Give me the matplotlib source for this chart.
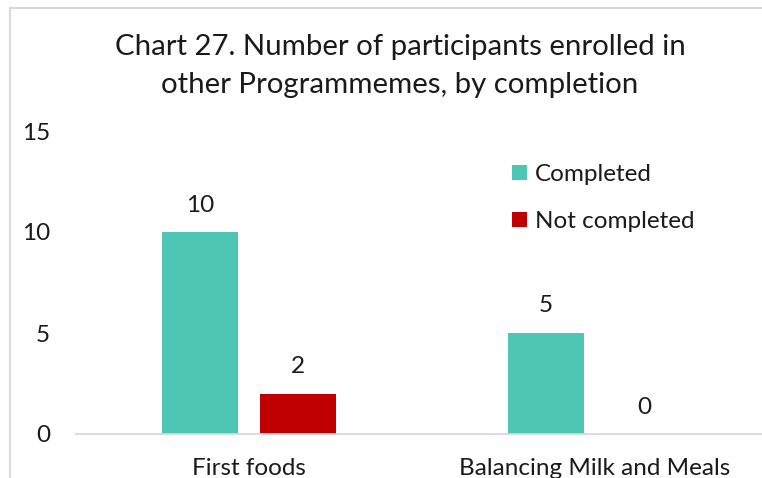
import matplotlib
matplotlib.use("Agg")
import matplotlib.pyplot as plt
from matplotlib.patches import Rectangle
import numpy as np

categories = ["First foods", "Balancing Milk and Meals"]
completed = [10, 5]
not_completed = [2, 0]
series_names = ["Completed", "Not completed"]
yticks = [0, 5, 10, 15]

TEAL = "#4dc7b4"
RED = "#c00000"
W, H = 762, 478
FS = 17.5

plt.rcParams['font.family'] = ['Lato', 'DejaVu Sans']

fig = plt.figure(figsize=(W / 100, H / 100), dpi=100)

# chart area border (cropped at right and bottom)
fig.patches.append(Rectangle((10 / W, -0.1), 2.0, 1.1 - 8 / H, transform=fig.transFigure,
                             fill=False, edgecolor="#d9d9d9", linewidth=1.5))


def px(x0, y0, x1, y1):
    return [x0 / W, 1 - y1 / H, (x1 - x0) / W, (y1 - y0) / H]


ax = fig.add_axes(px(76, 131, 768, 434))
x = np.arange(len(categories))
bw = 0.2225
off = 0.1416
b1 = ax.bar(x - off, completed, bw, color=TEAL, label=series_names[0], zorder=2)
b2 = ax.bar(x + off, not_completed, bw, color=RED, label=series_names[1], zorder=2)
for bars in (b1, b2):
    for r in bars:
        ax.annotate(f"{r.get_height():g}", (r.get_x() + r.get_width() / 2, r.get_height()),
                    xytext=(0, 27), textcoords="offset pixels", ha="center", va="center",
                    fontsize=FS, color="#1a1a1a", annotation_clip=False)

ax.set_xlim(-0.5, 1.5)
ax.set_ylim(0, 15)
ax.set_yticks(yticks)
ax.set_xticks(x, categories)
ax.tick_params(axis="y", length=0, pad=26 * 0.72, labelsize=FS, labelcolor="#1a1a1a")
ax.tick_params(axis="x", length=0, pad=24 * 0.72, labelsize=FS, labelcolor="#1a1a1a")
for s in ("top", "right", "left"):
    ax.spines[s].set_visible(False)
ax.spines["bottom"].set_color("#d9d9d9")
ax.spines["bottom"].set_linewidth(1.3)

fig.text(400 / W, 1 - 47 / H, "Chart 27. Number of participants enrolled in",
         ha="center", va="center", fontsize=21.2, color="#1a1a1a")
fig.text(400 / W, 1 - 85 / H, "other Programmemes, by completion",
         ha="center", va="center", fontsize=21.2, color="#1a1a1a")

fig.legend(handles=[b1, b2], loc="upper left", bbox_to_anchor=(500 / W, 1 - 152 / H),
           frameon=False, fontsize=FS, handlelength=0.6, handleheight=0.6,
           handletextpad=0.35, labelspacing=1.07, borderpad=0, labelcolor="#1a1a1a")

fig.savefig("out.png", dpi=100)
